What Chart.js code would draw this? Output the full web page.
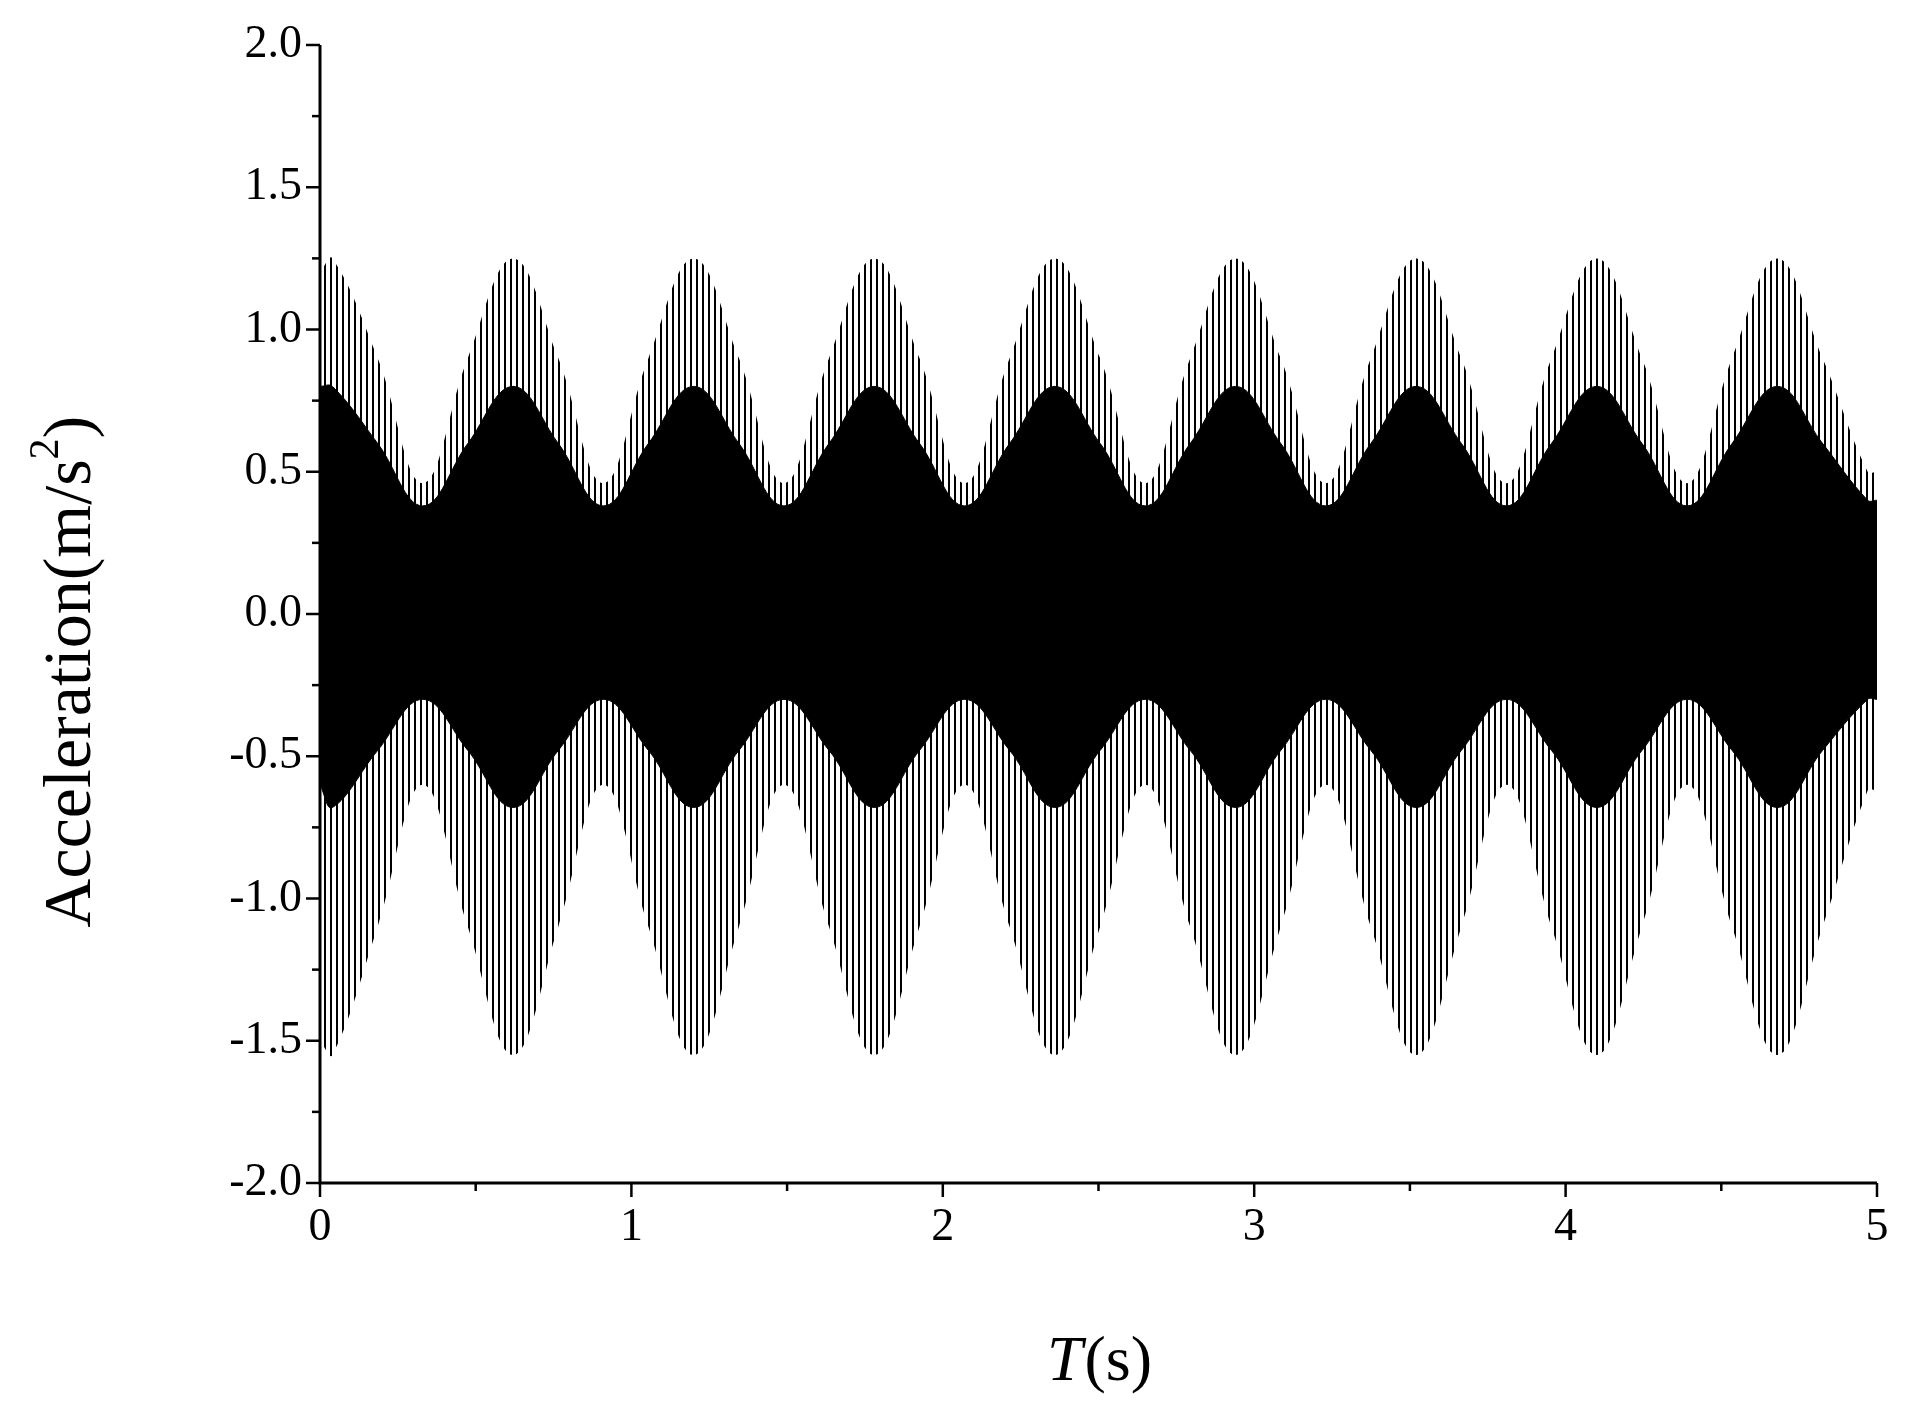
<!DOCTYPE html><html><head><meta charset="utf-8">
<script src="https://cdn.jsdelivr.net/npm/chart.js@4/dist/chart.umd.min.js"></script>
<style>html,body{margin:0;background:#fff}#w{width:1910px;height:1412px}</style></head><body><div id="w"><canvas id="c"></canvas></div>
<script>
const times=[0,0.04,0.185,0.33,0.475,0.62,0.765,0.91,1.055,1.2,1.345,1.49,1.635,1.78,1.925,2.07,2.215,2.36,2.505,2.65,2.795,2.94,3.085,3.23,3.375,3.52,3.665,3.81,3.955,4.1,4.245,4.39,4.535,4.68,4.825,4.97,5];
const outerUpper=[1.2,1.25,0.9,0.46,0.9,1.25,0.9,0.46,0.9,1.25,0.9,0.46,0.9,1.25,0.9,0.46,0.9,1.25,0.9,0.46,0.9,1.25,0.9,0.46,0.9,1.25,0.9,0.46,0.9,1.25,0.9,0.46,0.9,1.25,0.9,0.5,0.5];
const outerLower=[-1.5,-1.55,-1.1,-0.6,-1.1,-1.55,-1.1,-0.6,-1.1,-1.55,-1.1,-0.6,-1.1,-1.55,-1.1,-0.6,-1.1,-1.55,-1.1,-0.6,-1.1,-1.55,-1.1,-0.6,-1.1,-1.55,-1.1,-0.6,-1.1,-1.55,-1.1,-0.6,-1.1,-1.55,-1.1,-0.62,-0.62];
const innerUpper=[0.8,0.8,0.6,0.38,0.6,0.8,0.6,0.38,0.6,0.8,0.6,0.38,0.6,0.8,0.6,0.38,0.6,0.8,0.6,0.38,0.6,0.8,0.6,0.38,0.6,0.8,0.6,0.38,0.6,0.8,0.6,0.38,0.6,0.8,0.6,0.4,0.4];
const innerLower=[-0.6,-0.68,-0.48,-0.3,-0.48,-0.68,-0.48,-0.3,-0.48,-0.68,-0.48,-0.3,-0.48,-0.68,-0.48,-0.3,-0.48,-0.68,-0.48,-0.3,-0.48,-0.68,-0.48,-0.3,-0.48,-0.68,-0.48,-0.3,-0.48,-0.68,-0.48,-0.3,-0.48,-0.68,-0.48,-0.3,-0.3];
const xTicks=[0,1,2,3,4,5];
const yTicks=[-2.0,-1.5,-1.0,-0.5,0.0,0.5,1.0,1.5,2.0];

const pc=document.createElement('canvas');pc.width=6;pc.height=4;
const px=pc.getContext('2d');px.fillStyle='#000';px.fillRect(0,0,2,4);
const pat=px.createPattern(pc,'repeat');
const pts=a=>a.map((v,i)=>({x:times[i],y:v}));
const FONT='"Liberation Serif","Times New Roman",serif';

const axesPlugin={id:'ax',afterDraw(ch){
 const c=ch.ctx,x=ch.scales.x,y=ch.scales.y,a=ch.chartArea;
 c.save();c.strokeStyle='#000';c.lineWidth=3;
 c.beginPath();c.moveTo(a.left,a.top);c.lineTo(a.left,a.bottom);c.lineTo(a.right,a.bottom);c.stroke();
 c.lineWidth=2.5;
 for(let v=-2;v<=2.0001;v+=0.25){const p=y.getPixelForValue(v);const major=Math.abs(v*2-Math.round(v*2))<1e-6;c.beginPath();c.moveTo(a.left,p);c.lineTo(a.left-(major?14:8),p);c.stroke();}
 for(let v=0;v<=5.0001;v+=0.5){const p=x.getPixelForValue(v);const major=Math.abs(v-Math.round(v))<1e-6;c.beginPath();c.moveTo(p,a.bottom);c.lineTo(p,a.bottom+(major?14:8));c.stroke();}
 c.fillStyle='#000';c.font='46px '+FONT;c.textAlign='right';c.textBaseline='middle';
 yTicks.forEach(v=>c.fillText(v.toFixed(1),a.left-18,y.getPixelForValue(v)));
 c.textAlign='center';c.textBaseline='top';
 xTicks.forEach(v=>c.fillText(String(v),x.getPixelForValue(v),a.bottom+22));
 c.textBaseline='alphabetic';
 const F=64;
 c.font='italic '+F+'px '+FONT;const t1='T',t2='(s)';c.textAlign='left';
 const w1=c.measureText(t1).width;c.font=F+'px '+FONT;const w2=c.measureText(t2).width;
 const cx=(a.left+a.right)/2,sx=cx-(w1+w2)/2;
 c.font='italic '+F+'px '+FONT;c.fillText(t1,sx,1380);c.font=F+'px '+FONT;c.fillText(t2,sx+w1+2,1380);
 c.translate(90,672);c.rotate(-Math.PI/2);
 c.font='68px '+FONT;
 const m='Acceleration(m/s',mw=c.measureText(m).width;
 let s=-(mw+c.measureText('2').width*0.6+c.measureText(')').width)/2;
 c.fillText(m,s,0);s+=mw;c.font='42px '+FONT;c.fillText('2',s,-32);s+=c.measureText('2').width;c.font='68px '+FONT;c.fillText(')',s,0);
 c.restore();}};

new Chart(document.getElementById('c'),{type:'line',
 data:{datasets:[
  {data:pts(outerUpper),fill:'+1',backgroundColor:pat,borderWidth:0,pointRadius:0,tension:0.4,order:2},
  {data:pts(outerLower),fill:false,borderWidth:0,pointRadius:0,tension:0.4,order:2},
  {data:pts(innerUpper),fill:'+1',backgroundColor:'#000',borderColor:'#000',borderWidth:1,pointRadius:0,tension:0.4,order:1},
  {data:pts(innerLower),fill:false,borderColor:'#000',borderWidth:1,pointRadius:0,tension:0.4,order:1}]},
 options:{responsive:true,maintainAspectRatio:false,animation:false,
  layout:{padding:{top:45,right:33,left:0,bottom:0}},
  plugins:{legend:{display:false},tooltip:{enabled:false}},
  scales:{
   x:{type:'linear',min:0,max:5,grid:{display:false},border:{display:false},ticks:{display:false},afterFit(s){s.height=229;}},
   y:{min:-2,max:2,grid:{display:false},border:{display:false},ticks:{display:false},afterFit(s){s.width=320;}}}},
 plugins:[axesPlugin]});
</script></body></html>
